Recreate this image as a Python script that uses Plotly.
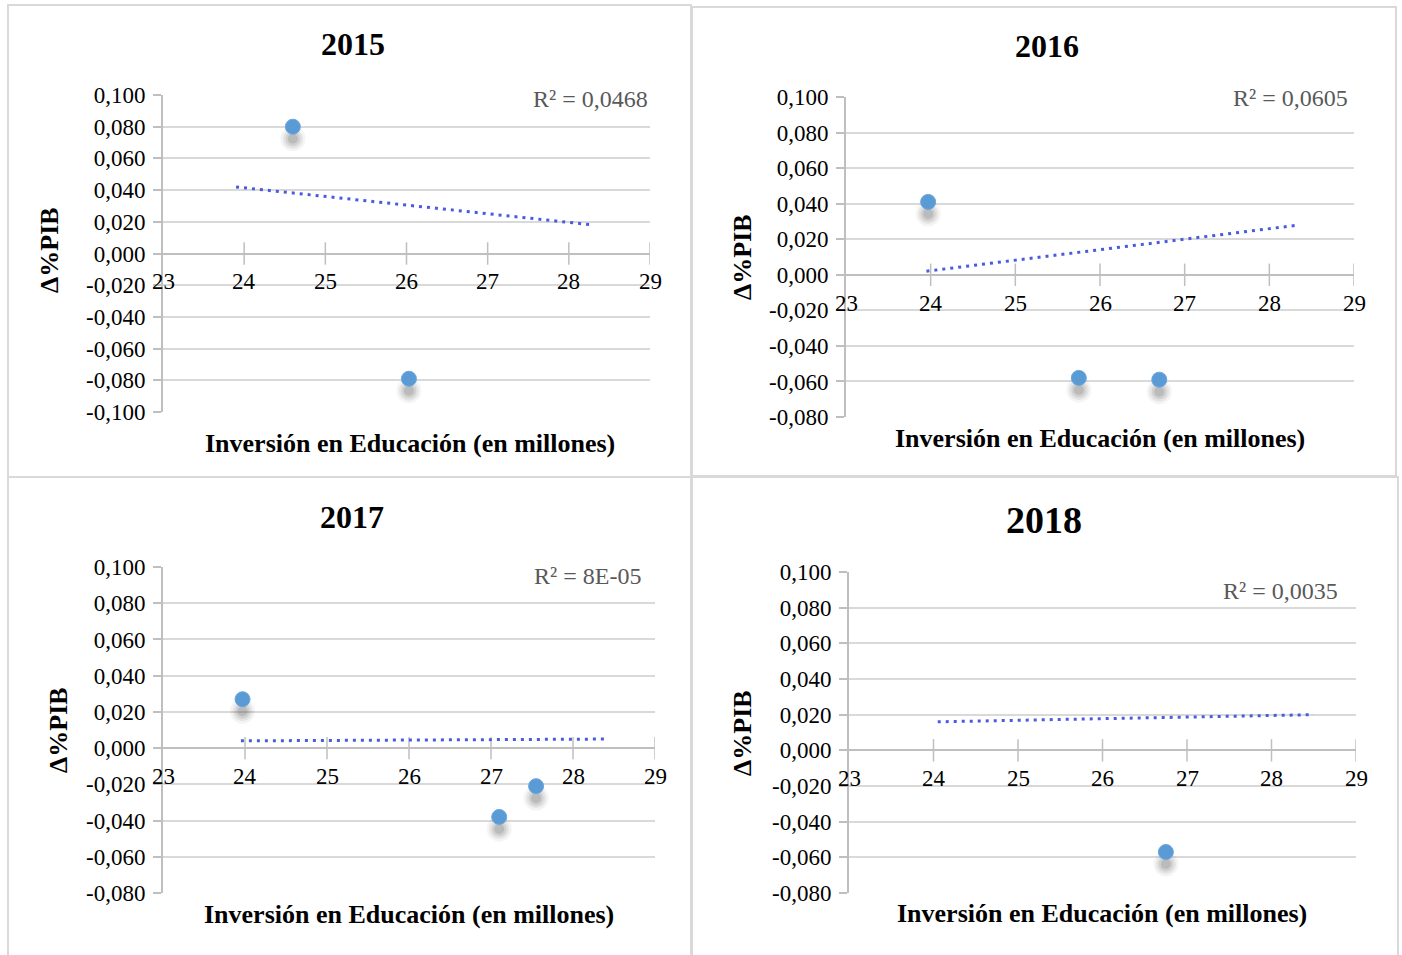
import plotly.graph_objects as go

# --- data -------------------------------------------------------------
years = ["2015", "2016", "2017", "2018"]

x_2015 = [24.60, 26.03]
y_2015 = [0.080, -0.079]
x_2016 = [23.97, 25.75, 26.70]
y_2016 = [0.041, -0.058, -0.059]
x_2017 = [23.97, 27.10, 27.55]
y_2017 = [0.027, -0.038, -0.021]
x_2018 = [26.75]
y_2018 = [-0.057]

# linear trend lines (start / end of fitted line)
trend_x_2015 = [23.90, 28.30]
trend_y_2015 = [0.042, 0.018]
trend_x_2016 = [23.95, 28.35]
trend_y_2016 = [0.002, 0.028]
trend_x_2017 = [23.95, 28.40]
trend_y_2017 = [0.004, 0.005]
trend_x_2018 = [24.05, 28.50]
trend_y_2018 = [0.016, 0.020]

r2_labels = ["R² = 0,0468", "R² = 0,0605", "R² = 8E-05", "R² = 0,0035"]

x_ticks = [23, 24, 25, 26, 27, 28, 29]
y_ticks_a = [0.100, 0.080, 0.060, 0.040, 0.020, 0.000, -0.020, -0.040, -0.060, -0.080, -0.100]
y_ticks_b = [0.100, 0.080, 0.060, 0.040, 0.020, 0.000, -0.020, -0.040, -0.060, -0.080]

x_title = "Inversión en Educación (en millones)"
y_title = "Δ%PIB"

# --- layout of the four panels (pixels on a 1402 x 955 page) ----------
W, H = 1402, 955
FONT = "Liberation Serif, Times New Roman, serif"
GRID = "#d9d9d9"
AXIS = "#bfbfbf"
DOT = "#5b9bd5"
TREND = "#4a5be0"
TICK_SIZE = 23


def fmt(v):
    s = f"{abs(v):.3f}".replace(".", ",")
    return ("-" + s) if v < 0 else s


panels = [
    dict(year=years[0], xs=x_2015, ys=y_2015, tx=trend_x_2015, ty=trend_y_2015,
         r2=r2_labels[0], yticks=y_ticks_a,
         plot=(163, 650, 95, 412), box=(8, 691, 5, 477),
         title_xy=(353, 44), title_size=32, r2_xy=(650, 99),
         xt_xy=(410, 443), yt_xy=(50, 250)),
    dict(year=years[1], xs=x_2016, ys=y_2016, tx=trend_x_2016, ty=trend_y_2016,
         r2=r2_labels[1], yticks=y_ticks_b,
         plot=(846, 1354, 97, 417), box=(692, 1396, 7, 476),
         title_xy=(1047, 46), title_size=32, r2_xy=(1350, 98),
         xt_xy=(1100, 438), yt_xy=(742, 257)),
    dict(year=years[2], xs=x_2017, ys=y_2017, tx=trend_x_2017, ty=trend_y_2017,
         r2=r2_labels[2], yticks=y_ticks_b,
         plot=(163, 655, 567, 893), box=(8, 691, 477, 960),
         title_xy=(352, 517), title_size=32, r2_xy=(643, 576),
         xt_xy=(409, 914), yt_xy=(58, 730)),
    dict(year=years[3], xs=x_2018, ys=y_2018, tx=trend_x_2018, ty=trend_y_2018,
         r2=r2_labels[3], yticks=y_ticks_b,
         plot=(849, 1356, 572, 893), box=(692, 1398, 477, 960),
         title_xy=(1044, 520), title_size=38, r2_xy=(1340, 591),
         xt_xy=(1102, 913), yt_xy=(742, 733)),
]


def px(xp):
    return xp / W


def py(yp):
    return 1 - yp / H


fig = go.Figure()
layout = dict(shapes=[], annotations=[])

for i, p in enumerate(panels, start=1):
    xa = "x" if i == 1 else f"x{i}"
    ya = "y" if i == 1 else f"y{i}"
    x0, x1, y0, y1 = p["plot"]
    ymin, ymax = min(p["yticks"]), max(p["yticks"])
    ppu = (y1 - y0) / (ymax - ymin)  # pixels per data unit on y

    # soft drop shadow under each marker
    for off, op, sz in [(12, 0.06, 25), (12, 0.09, 20), (12, 0.12, 15), (12, 0.15, 10)]:
        fig.add_trace(go.Scatter(
            x=p["xs"], y=[v - off / ppu for v in p["ys"]], mode="markers",
            marker=dict(size=sz, color=f"rgba(70,70,70,{op})", line=dict(width=0)),
            xaxis=xa, yaxis=ya, showlegend=False, hoverinfo="skip"))

    # x tick marks crossing the zero line
    fig.add_trace(go.Scatter(
        x=x_ticks[1:], y=[0] * (len(x_ticks) - 1), mode="markers",
        marker=dict(symbol="line-ns", size=16, line=dict(color=AXIS, width=1.5)),
        xaxis=xa, yaxis=ya, showlegend=False, hoverinfo="skip"))

    # trend line
    fig.add_trace(go.Scatter(
        x=p["tx"], y=p["ty"], mode="lines",
        line=dict(color=TREND, width=3, dash="3px,5px"),
        xaxis=xa, yaxis=ya, showlegend=False))

    # data points
    fig.add_trace(go.Scatter(
        x=p["xs"], y=p["ys"], mode="markers",
        marker=dict(size=15, color=DOT, line=dict(color="#6aa6dc", width=1)),
        xaxis=xa, yaxis=ya, showlegend=False))

    layout[f"xaxis{'' if i == 1 else i}"] = dict(
        domain=[px(x0), px(x1)], range=[23, 29], anchor=ya,
        showgrid=False, zeroline=False, showline=False, automargin=False,
        showticklabels=False, ticks="", fixedrange=True)
    layout[f"yaxis{'' if i == 1 else i}"] = dict(
        domain=[py(y1), py(y0)], range=[ymin, ymax], anchor=xa, automargin=False,
        tickvals=p["yticks"], ticktext=[fmt(v) for v in p["yticks"]],
        showgrid=True, gridcolor=GRID, gridwidth=2,
        zeroline=True, zerolinecolor=AXIS, zerolinewidth=2,
        showline=True, linecolor=AXIS, linewidth=2,
        ticks="outside", ticklen=8, tickcolor=AXIS, tickwidth=2,
        tickfont=dict(family=FONT, size=TICK_SIZE, color="#000000"),
        ticklabelstandoff=3, fixedrange=True)

    # x tick labels sit just under the zero line
    for t in x_ticks:
        layout["annotations"].append(dict(
            x=t, y=0, xref=xa, yref=ya, text=str(t), showarrow=False,
            yanchor="top", xanchor="center", yshift=-14,
            font=dict(family=FONT, size=TICK_SIZE, color="#000000")))

    # panel frame
    bx0, bx1, by0, by1 = p["box"]
    layout["shapes"].append(dict(
        type="rect", xref="paper", yref="paper",
        x0=px(bx0), x1=px(bx1), y0=py(by1), y1=py(by0),
        line=dict(color="#d9d9d9", width=2), fillcolor="rgba(0,0,0,0)", layer="below"))

    tx, ty = p["title_xy"]
    layout["annotations"].append(dict(
        x=px(tx), y=py(ty), xref="paper", yref="paper", text=f"<b>{p['year']}</b>",
        showarrow=False, xanchor="center", yanchor="middle",
        font=dict(family=FONT, size=p["title_size"], color="#000000")))

    rx, ry = p["r2_xy"]
    layout["annotations"].append(dict(
        x=px(rx), y=py(ry), xref="paper", yref="paper", text=p["r2"],
        showarrow=False, xanchor="right", yanchor="middle",
        font=dict(family=FONT, size=24, color="#595959")))

    xx, xy = p["xt_xy"]
    layout["annotations"].append(dict(
        x=px(xx), y=py(xy), xref="paper", yref="paper", text=f"<b>{x_title}</b>",
        showarrow=False, xanchor="center", yanchor="middle",
        font=dict(family=FONT, size=26, color="#000000")))

    yx, yy = p["yt_xy"]
    layout["annotations"].append(dict(
        x=px(yx), y=py(yy), xref="paper", yref="paper", text=f"<b>{y_title}</b>",
        showarrow=False, xanchor="center", yanchor="middle", textangle=-90,
        font=dict(family=FONT, size=26, color="#000000")))

fig.update_layout(
    width=W, height=H, margin=dict(l=0, r=0, t=0, b=0, autoexpand=False),
    paper_bgcolor="#ffffff", plot_bgcolor="rgba(0,0,0,0)",
    showlegend=False, **layout)

fig.write_html("out.html", config={"displayModeBar": False})
